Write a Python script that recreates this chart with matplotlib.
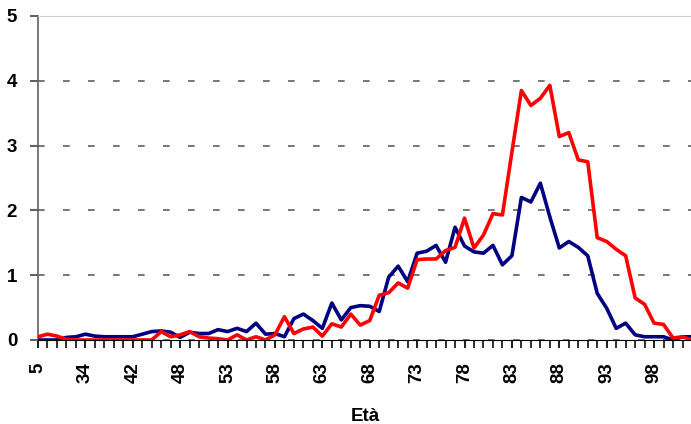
import matplotlib.pyplot as plt
from matplotlib.ticker import FixedLocator, NullFormatter

plt.rcdefaults()
plt.rcParams['font.family'] = ['Liberation Sans', 'DejaVu Sans']
plt.rcParams['xtick.major.size'] = 6
plt.rcParams['xtick.minor.size'] = 6
plt.rcParams['xtick.major.width'] = 1.3
plt.rcParams['xtick.minor.width'] = 1.3
plt.rcParams['ytick.major.size'] = 6
plt.rcParams['ytick.major.width'] = 1.3

# --- data ---
eta = [5, 22, 27, 30, 32, 34, 36, 38, 39, 40,
       42, 43, 44, 45, 47] + list(range(48, 103))

serie_blu = [0.00, 0.00, 0.00, 0.04, 0.05, 0.09, 0.06, 0.05, 0.05, 0.05,
             0.05, 0.09, 0.13, 0.14, 0.12, 0.04, 0.12, 0.10, 0.10, 0.16,
             0.13, 0.18, 0.13, 0.26, 0.09, 0.10, 0.05, 0.33, 0.40, 0.30,
             0.18, 0.57, 0.31, 0.50, 0.53, 0.52, 0.44, 0.97, 1.14, 0.90,
             1.34, 1.37, 1.46, 1.20, 1.74, 1.45, 1.36, 1.34, 1.46, 1.16,
             1.30, 2.20, 2.13, 2.42, 1.90, 1.42, 1.52, 1.43, 1.30, 0.72,
             0.49, 0.18, 0.26, 0.08, 0.05, 0.05, 0.05, 0.00, 0.05, 0.05]

serie_rossa = [0.05, 0.09, 0.06, 0.01, 0.00, 0.00, 0.00, 0.00, 0.00, 0.00,
               0.00, 0.00, 0.00, 0.13, 0.05, 0.08, 0.13, 0.05, 0.03, 0.02,
               0.00, 0.08, 0.00, 0.05, 0.00, 0.08, 0.36, 0.10, 0.17, 0.20,
               0.06, 0.25, 0.20, 0.40, 0.23, 0.30, 0.69, 0.73, 0.88, 0.80,
               1.24, 1.25, 1.25, 1.38, 1.43, 1.88, 1.42, 1.62, 1.95, 1.93,
               2.90, 3.85, 3.62, 3.73, 3.93, 3.14, 3.20, 2.78, 2.75, 1.58,
               1.52, 1.40, 1.30, 0.65, 0.55, 0.26, 0.24, 0.03, 0.05, 0.00]

# --- plot ---
fig = plt.figure(figsize=(6.91, 4.24), dpi=100)
ax = fig.add_axes([38 / 691, 1 - 340 / 424, 654 / 691, 324 / 424])

pos = list(range(len(eta)))
ax.plot(pos, serie_blu, color='#000080', linewidth=2.6, solid_joinstyle='round',
        solid_capstyle='round', zorder=3)
ax.plot(pos, serie_rossa, color='#FF0000', linewidth=2.6, solid_joinstyle='round',
        solid_capstyle='round', zorder=3)

ax.set_xlim(0, len(eta) - 1)
ax.set_ylim(0, 5)

# category ticks on every point, labels every 5th
ax.set_xticks(pos[::5])
ax.set_xticklabels([str(e) for e in eta[::5]], rotation=90,
                   fontsize=13.5, fontweight='bold')
ax.set_xticks(pos, minor=True)
ax.xaxis.remove_overlapping_locs = False
ax.tick_params(axis='x', which='both', direction='out', color='#202020')
ax.tick_params(axis='x', which='major', pad=10)

ax.set_yticks(range(0, 6))
ax.set_yticklabels([str(v) for v in range(0, 6)], fontsize=13.5, fontweight='bold')
ax.tick_params(axis='y', which='major', direction='out', color='#505050', pad=9)

ax.grid(axis='y', color='#606060', linestyle=(0, (4, 11)), linewidth=1.2)

ax.spines['right'].set_visible(False)
ax.spines['top'].set_color('#d0d0d0')
ax.spines['top'].set_linewidth(0.8)
ax.spines['left'].set_color('#606060')
ax.spines['left'].set_linewidth(1.2)
ax.spines['bottom'].set_color('black')
ax.spines['bottom'].set_zorder(4)

ax.set_xlabel('Età', fontsize=13.5, fontweight='bold', labelpad=18)

fig.savefig('out.png', dpi=100)
